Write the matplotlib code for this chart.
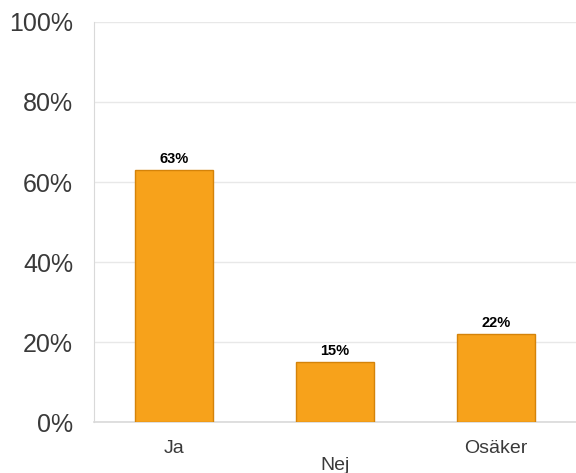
import matplotlib.pyplot as plt
from matplotlib.ticker import PercentFormatter

categories = ['Ja', 'Nej', 'Osäker']
values = [63, 15, 22]
yticks = [0, 20, 40, 60, 80, 100]

fig = plt.figure(figsize=(5.76, 4.73), dpi=100)
ax = fig.add_axes([0.1632, 0.1078, 0.8368, 0.8457])

x = range(len(categories))
bars = ax.bar(x, values, width=0.485, color='#F7A21B', edgecolor='#D4830A',
              linewidth=1.0, zorder=3)

for b, v in zip(bars, values):
    ax.text(b.get_x() + b.get_width() / 2, v + 1.0, f'{v}%',
            ha='center', va='bottom', fontsize=10.5, fontweight='bold',
            family='Liberation Sans', color='black')

ax.set_xlim(-0.5, 2.5)
ax.set_ylim(0, 100)
ax.set_yticks(yticks)
ax.yaxis.set_major_formatter(PercentFormatter(decimals=0))
ax.grid(axis='y', color='#e8e8e8', linewidth=1.0, zorder=0)
ax.tick_params(axis='y', length=0, pad=15, labelsize=18, labelcolor='#3a3a3a')
for lab in ax.get_yticklabels():
    lab.set_family('Liberation Sans')

# staggered category labels
ax.set_xticks([])
for i, name in enumerate(categories):
    off = 43 if i % 2 else 26
    ax.annotate(name, xy=(i, 0), xycoords='data', xytext=(0, -off * 0.72),
                textcoords='offset points', ha='center', va='center',
                fontsize=14, family='Liberation Sans', color='#3a3a3a')

for s in ['top', 'right']:
    ax.spines[s].set_visible(False)
ax.spines['left'].set_color('#d9d9d9')
ax.spines['bottom'].set_color('#d9d9d9')
ax.spines['bottom'].set_linewidth(1.2)

fig.savefig('out.png', dpi=100)
